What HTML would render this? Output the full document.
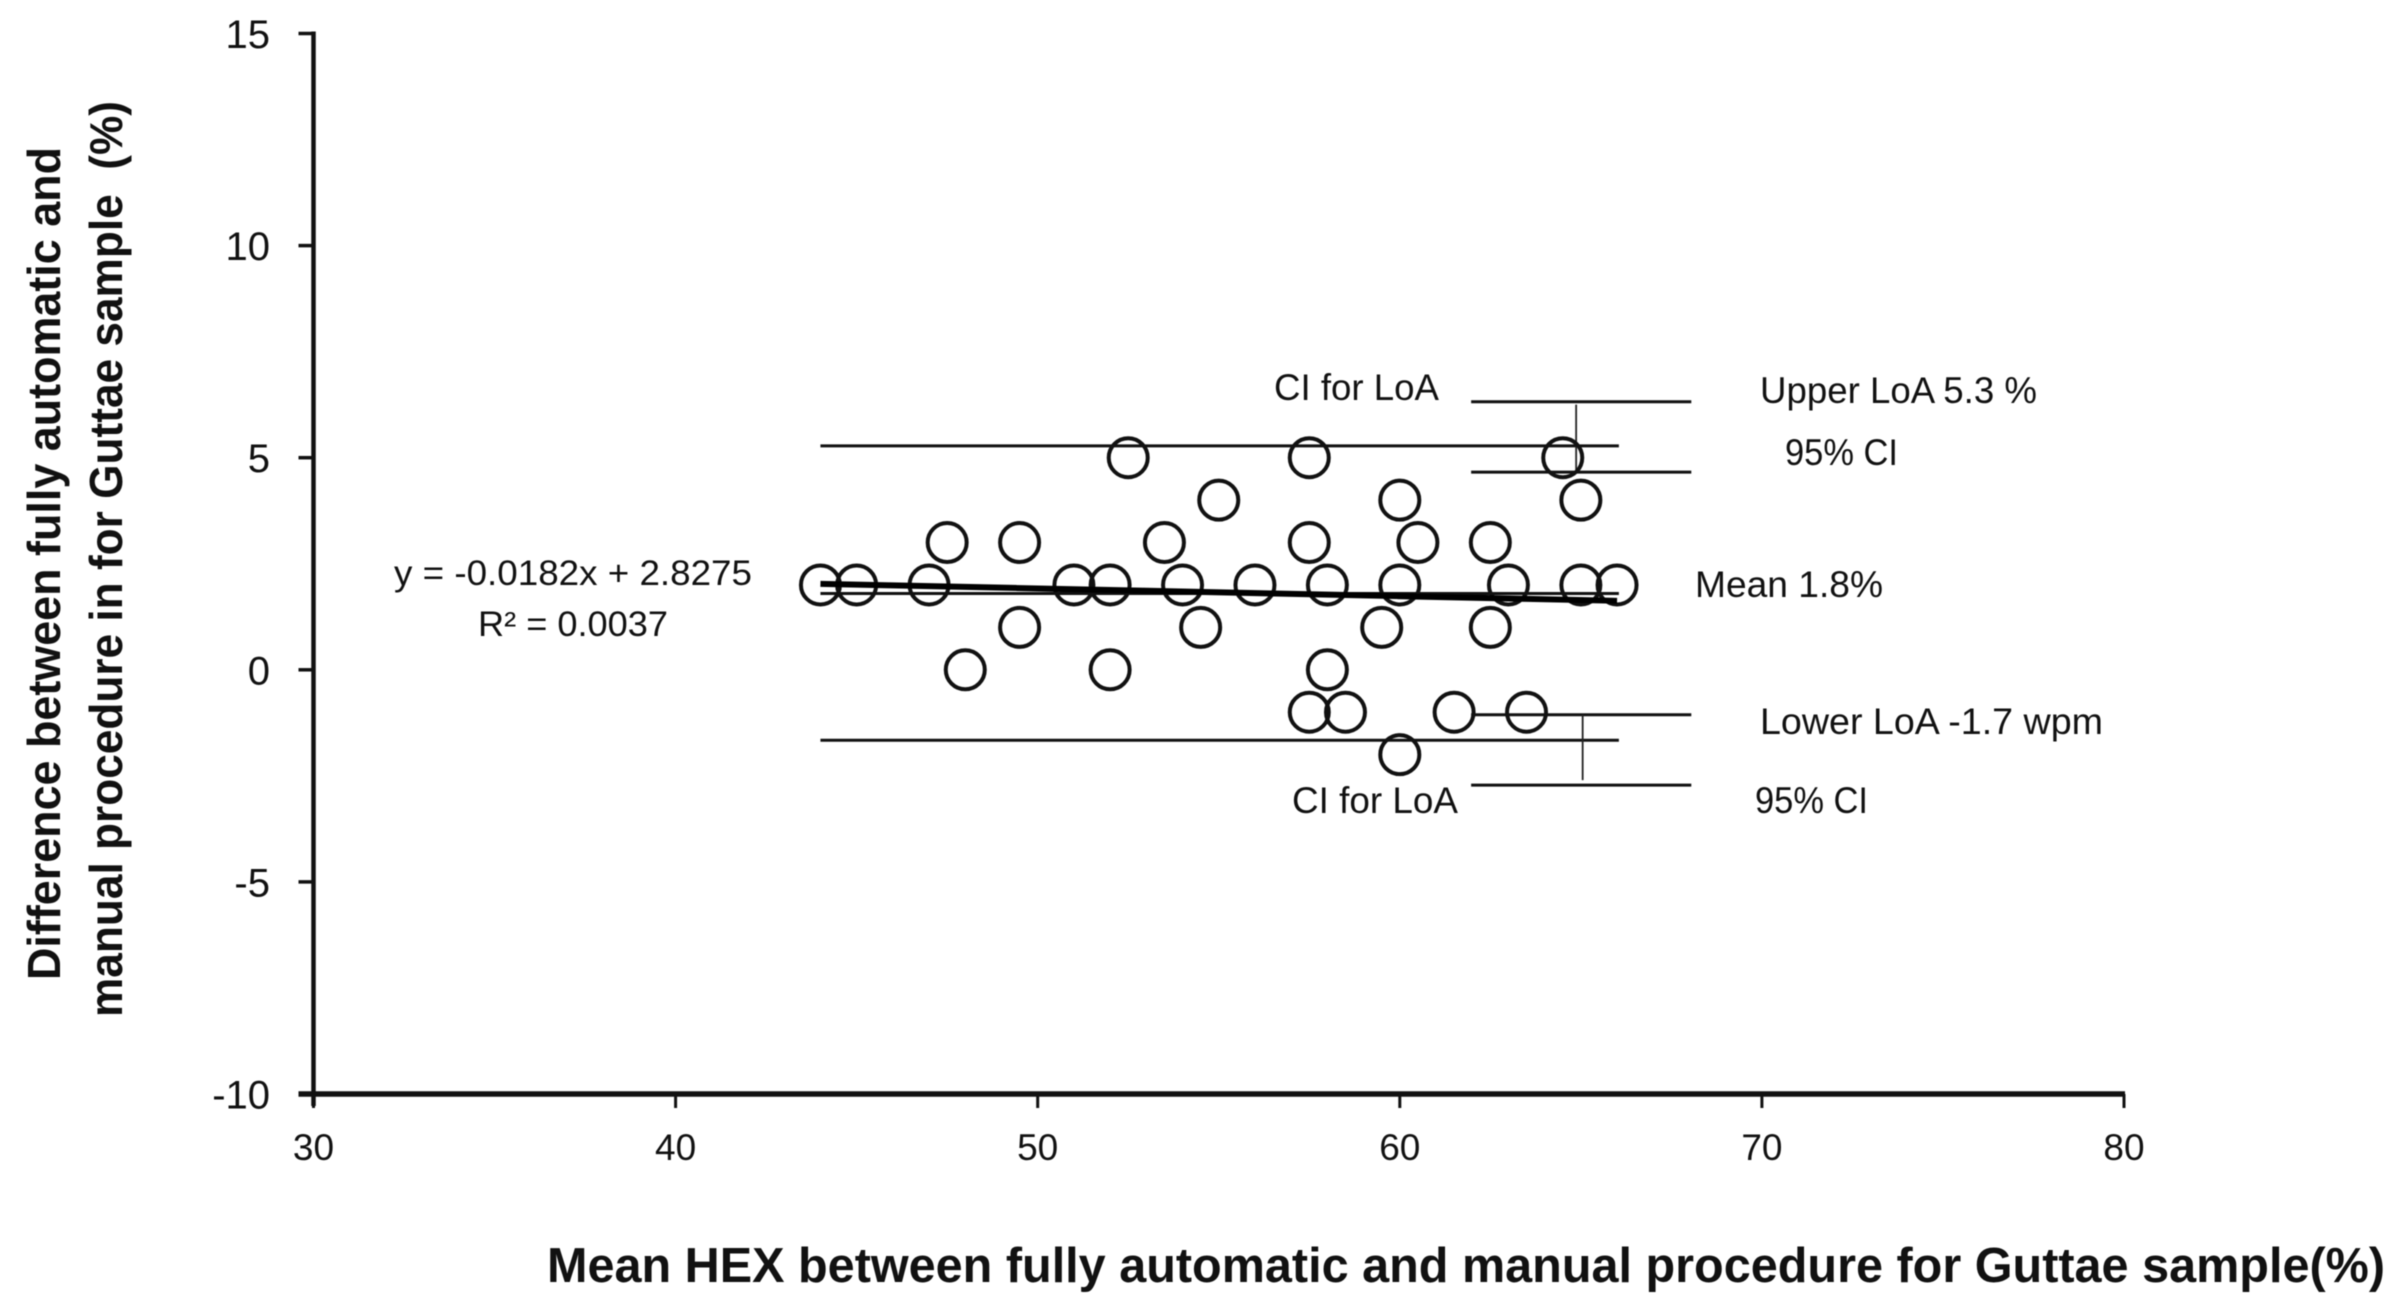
<!DOCTYPE html>
<html>
<head>
<meta charset="utf-8">
<title>Bland-Altman plot for Guttae sample</title>
<style>
  html, body { margin: 0; padding: 0; background: #fff; }
  #chart { display: block; filter: blur(0.6px); }
  text { font-family: "Liberation Sans", sans-serif; fill: #111; white-space: pre; }
</style>
</head>
<body>
<svg id="chart" xmlns="http://www.w3.org/2000/svg" width="2394" height="1309" viewBox="0 0 2394 1309">
  <rect x="0" y="0" width="2394" height="1309" fill="#fff"/>
  <g id="marks"></g>
  <g id="axes"></g>

  <text x="547" y="1282" font-size="49" font-weight="700" textLength="1838" lengthAdjust="spacingAndGlyphs">Mean HEX between fully automatic and manual procedure for Guttae sample(%)</text>
  <text transform="translate(60,980) rotate(-90)" font-size="46" font-weight="700" textLength="833" lengthAdjust="spacingAndGlyphs">Difference between fully automatic and</text>
  <text transform="translate(122,1017) rotate(-90)" font-size="46" font-weight="700" textLength="916" lengthAdjust="spacingAndGlyphs">manual procedure in for Guttae sample  (%)</text>

  <text x="394" y="585" font-size="35" textLength="358" lengthAdjust="spacingAndGlyphs">y = -0.0182x + 2.8275</text>
  <text x="478" y="636" font-size="35" textLength="190" lengthAdjust="spacingAndGlyphs">R² = 0.0037</text>
  <text x="1274" y="400" font-size="37" textLength="165" lengthAdjust="spacingAndGlyphs">CI for LoA</text>
  <text x="1760" y="403" font-size="37" textLength="277" lengthAdjust="spacingAndGlyphs">Upper LoA 5.3 %</text>
  <text x="1785" y="465" font-size="37" textLength="113" lengthAdjust="spacingAndGlyphs">95% CI</text>
  <text x="1695" y="597" font-size="37" textLength="188" lengthAdjust="spacingAndGlyphs">Mean 1.8%</text>
  <text x="1760" y="734" font-size="37" textLength="343" lengthAdjust="spacingAndGlyphs">Lower LoA -1.7 wpm</text>
  <text x="1292" y="813" font-size="37" textLength="166" lengthAdjust="spacingAndGlyphs">CI for LoA</text>
  <text x="1755" y="813" font-size="37" textLength="113" lengthAdjust="spacingAndGlyphs">95% CI</text>
</svg>
<script>
// ---- chart data ----
const xTicks = [30, 40, 50, 60, 70, 80];
const yTicks = [15, 10, 5, 0, -5, -10];
const meanValues = [44, 45, 47, 47.5, 48, 49.5, 49.5, 51, 52, 52, 52.5, 53.5, 54, 54.5, 55, 56, 57.5, 57.5, 57.5, 58, 58, 58.5, 59.5, 60, 60, 60, 60.5, 61.5, 62.5, 62.5, 63, 63.5, 64.5, 65, 65, 66];
const diffValues = [2, 2, 2, 3, 0, 3, 1, 2, 2, 0, 5, 3, 2, 1, 4, 2, 5, 3, -1, 2, 0, -1, 1, 4, 2, -2, 3, -1, 3, 1, 2, -1, 5, 4, 2, 2];
const loaRange = [44, 66.05];
const upperLoa = [5.28];
const meanDiff = [1.8];
const lowerLoa = [-1.66];
const ciRange = [61.97, 68.05];
const upperCi = [6.32, 4.66];
const lowerCi = [-1.06, -2.72];
const upperCiStem = [64.87, 6.25, 4.7];
const lowerCiStem = [65.05, -1.06, -2.6];
const trendRange = [44, 66];
const trendSlope = [-0.0182];
const trendIntercept = [2.8275];

// ---- axis functions ----
const X_MIN = 30, X_MAX = 80, Y_MIN = -10, Y_MAX = 15;
const PLOT_LEFT = 313.5, PLOT_RIGHT = 2124, PLOT_TOP = 33.5, PLOT_BOTTOM = 1094;
function sx(v) { return PLOT_LEFT + (v - X_MIN) / (X_MAX - X_MIN) * (PLOT_RIGHT - PLOT_LEFT); }
function sy(v) { return PLOT_BOTTOM - (v - Y_MIN) / (Y_MAX - Y_MIN) * (PLOT_BOTTOM - PLOT_TOP); }

const NS = 'http://www.w3.org/2000/svg';
const marks = document.getElementById('marks');
const axes = document.getElementById('axes');
function make(tag, parent, attrs) {
  const el = document.createElementNS(NS, tag);
  for (const k in attrs) el.setAttribute(k, attrs[k]);
  parent.appendChild(el);
  return el;
}
function seg(parent, x1, y1, x2, y2, w, color) {
  return make('line', parent, { x1: x1, y1: y1, x2: x2, y2: y2, stroke: color || '#111', 'stroke-width': w });
}

// ---- reference lines ----
let el;
el = seg(marks, sx(loaRange[0]), sy(upperLoa[0]), sx(loaRange[1]), sy(upperLoa[0]), 3);


el = seg(marks, sx(loaRange[0]), sy(meanDiff[0]), sx(loaRange[1]), sy(meanDiff[0]), 3);


el = seg(marks, sx(loaRange[0]), sy(lowerLoa[0]), sx(loaRange[1]), sy(lowerLoa[0]), 3);



upperCi.forEach(function (v) {
  const l = seg(marks, sx(ciRange[0]), sy(v), sx(ciRange[1]), sy(v), 3);
  
  
});
lowerCi.forEach(function (v) {
  const l = seg(marks, sx(ciRange[0]), sy(v), sx(ciRange[1]), sy(v), 3);
  
  
});
el = seg(marks, sx(upperCiStem[0]), sy(upperCiStem[1]), sx(upperCiStem[0]), sy(upperCiStem[2]), 1.8, '#222');


el = seg(marks, sx(lowerCiStem[0]), sy(lowerCiStem[1]), sx(lowerCiStem[0]), sy(lowerCiStem[2]), 1.8, '#222');



// ---- data points ----
meanValues.forEach(function (m, i) {
  const c = make('circle', marks, { cx: sx(m), cy: sy(diffValues[i]), r: 19.5, fill: 'none', stroke: '#111', 'stroke-width': 4 });
  
  
});

// ---- trend line ----
el = seg(marks,
  sx(trendRange[0]), sy(trendSlope[0] * trendRange[0] + trendIntercept[0]),
  sx(trendRange[1]), sy(trendSlope[0] * trendRange[1] + trendIntercept[0]), 6, '#000');



// ---- axes ----
el = seg(axes, sx(X_MIN), sy(Y_MAX) - 2, sx(X_MIN), sy(Y_MIN) + 12, 4.5);


el = seg(axes, sx(X_MIN) - 15, sy(Y_MIN), sx(X_MAX) + 1, sy(Y_MIN), 5.5);



yTicks.forEach(function (v) {
  const t = seg(axes, sx(X_MIN) - 15, sy(v), sx(X_MIN), sy(v), 3.5);
  
  
  const label = make('text', axes, { x: 270, y: sy(v) + 14.5, 'font-size': 40, 'text-anchor': 'end' });
  label.textContent = String(v);
  
  
});
xTicks.forEach(function (v) {
  const t = seg(axes, sx(v), sy(Y_MIN), sx(v), sy(Y_MIN) + 14, 3);
  
  
  const label = make('text', axes, { x: sx(v), y: 1160, 'font-size': 37, 'text-anchor': 'middle' });
  label.textContent = String(v);
  
  
});
</script>
</body>
</html>
